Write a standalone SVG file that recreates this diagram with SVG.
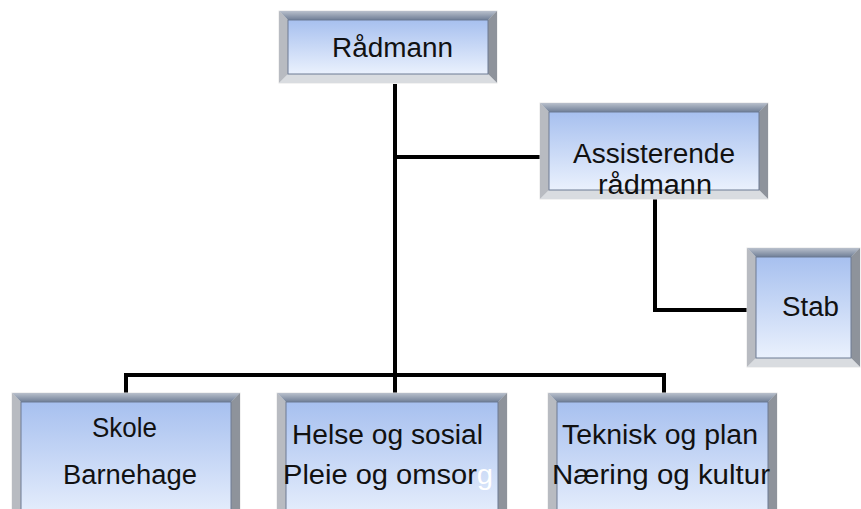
<svg xmlns="http://www.w3.org/2000/svg" width="861" height="509" viewBox="0 0 861 509">
<defs>
<linearGradient id="face" x1="0" y1="0" x2="0" y2="1">
<stop offset="0" stop-color="#a7c0ef"/>
<stop offset="1" stop-color="#eaf1fd"/>
</linearGradient>
<linearGradient id="topband" x1="0" y1="0" x2="0" y2="1">
<stop offset="0" stop-color="#b9c0cc"/>
<stop offset="1" stop-color="#6f7e96"/>
</linearGradient>
</defs>
<style>
.outer{fill:#d3d5d9;stroke:#e6e6e6;stroke-width:1}
.bt{fill:url(#topband)}
.bl{fill:#b8bbc1}
.br{fill:#8e939b}
.bb{fill:#d9dce0}
.face{fill:url(#face);stroke:#6d7b93;stroke-width:1}
.lbl{font-family:"Liberation Sans",Arial,sans-serif;font-size:27px;fill:#111}
.conn{fill:none;stroke:#000;stroke-width:4}
</style>
<g id="connectors">
<path class="conn" d="M395 84V393"/>
<path class="conn" d="M395 157H540"/>
<path class="conn" d="M655 199V310H747"/>
<path class="conn" d="M126 393V375H664V393"/>
</g>
<g id="radmann">
<rect class="outer" x="279" y="11" width="218" height="72"/>
<polygon class="bt" points="279,11 497,11 488,20 288,20"/>
<polygon class="bl" points="279,11 288,20 288,74 279,83"/>
<polygon class="br" points="497,11 497,83 488,74 488,20"/>
<polygon class="bb" points="279,83 288,74 488,74 497,83"/>
<rect class="face" x="288" y="20" width="200" height="54"/>
<text class="lbl" x="332" y="57" textLength="121" lengthAdjust="spacingAndGlyphs">Rådmann</text>
</g>
<g id="assisterende">
<rect class="outer" x="540" y="103" width="228" height="96"/>
<polygon class="bt" points="540,103 768,103 759,112 549,112"/>
<polygon class="bl" points="540,103 549,112 549,190 540,199"/>
<polygon class="br" points="768,103 768,199 759,190 759,112"/>
<polygon class="bb" points="540,199 549,190 759,190 768,199"/>
<rect class="face" x="549" y="112" width="210" height="78"/>
<text class="lbl" x="573" y="163" textLength="162" lengthAdjust="spacingAndGlyphs">Assisterende</text>
<text class="lbl" x="598" y="194" textLength="114" lengthAdjust="spacingAndGlyphs">rådmann</text>
</g>
<g id="stab">
<rect class="outer" x="747" y="248" width="113" height="119"/>
<polygon class="bt" points="747,248 860,248 851,257 756,257"/>
<polygon class="bl" points="747,248 756,257 756,358 747,367"/>
<polygon class="br" points="860,248 860,367 851,358 851,257"/>
<polygon class="bb" points="747,367 756,358 851,358 860,367"/>
<rect class="face" x="756" y="257" width="95" height="101"/>
<text class="lbl" x="782" y="316" textLength="57" lengthAdjust="spacingAndGlyphs">Stab</text>
</g>
<g id="skole">
<rect class="outer" x="12" y="393" width="228" height="130"/>
<polygon class="bt" points="12,393 240,393 231,402 21,402"/>
<polygon class="bl" points="12,393 21,402 21,523 12,523"/>
<polygon class="br" points="240,393 240,523 231,523 231,402"/>
<rect class="face" x="21" y="402" width="210" height="121"/>
<text class="lbl" x="92" y="437" textLength="65" lengthAdjust="spacingAndGlyphs">Skole</text>
<text class="lbl" x="63" y="484" textLength="134" lengthAdjust="spacingAndGlyphs">Barnehage</text>
</g>
<g id="helse">
<rect class="outer" x="277" y="393" width="230" height="130"/>
<polygon class="bt" points="277,393 507,393 498,402 286,402"/>
<polygon class="bl" points="277,393 286,402 286,523 277,523"/>
<polygon class="br" points="507,393 507,523 498,523 498,402"/>
<rect class="face" x="286" y="402" width="212" height="121"/>
<text class="lbl" x="292" y="444" textLength="191" lengthAdjust="spacingAndGlyphs">Helse og sosial</text>
<text class="lbl" x="283" y="484" textLength="210" lengthAdjust="spacingAndGlyphs">Pleie og omsor<tspan fill="#ffffff">g</tspan></text>
</g>
<g id="teknisk">
<rect class="outer" x="548" y="393" width="229" height="130"/>
<polygon class="bt" points="548,393 777,393 768,402 557,402"/>
<polygon class="bl" points="548,393 557,402 557,523 548,523"/>
<polygon class="br" points="777,393 777,523 768,523 768,402"/>
<rect class="face" x="557" y="402" width="211" height="121"/>
<text class="lbl" x="562" y="444" textLength="196" lengthAdjust="spacingAndGlyphs">Teknisk og plan</text>
<text class="lbl" x="552" y="484" textLength="218" lengthAdjust="spacingAndGlyphs">Næring og kultur</text>
</g>
</svg>
